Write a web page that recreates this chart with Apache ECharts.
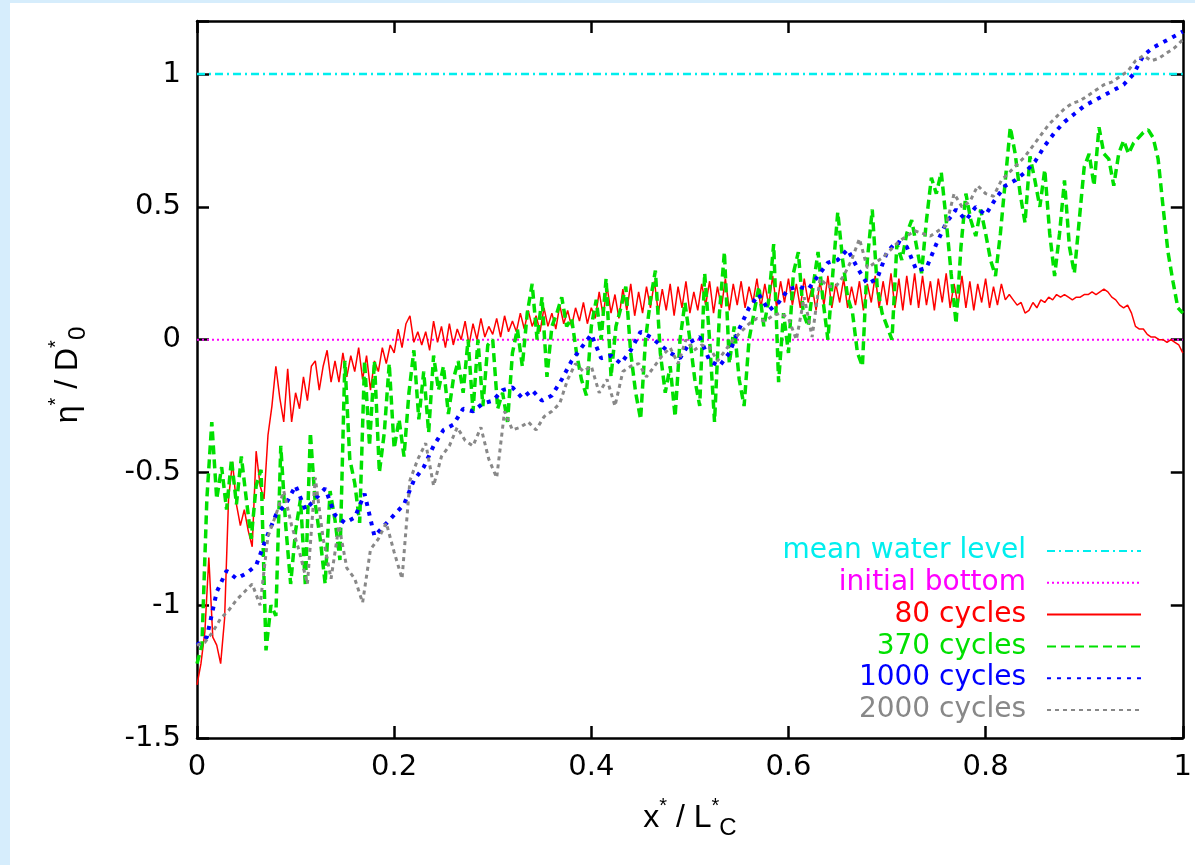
<!DOCTYPE html>
<html><head><meta charset="utf-8">
<script src="https://cdn.jsdelivr.net/npm/echarts@6/dist/echarts.min.js"></script>
<style>
html,body{margin:0;padding:0;background:#d6edfc;width:1195px;height:865px;overflow:hidden;}
#bg{position:absolute;left:10px;top:3px;right:0;bottom:0;background:#fff;}
#c{position:absolute;left:0;top:0;width:1195px;height:865px;}
</style>
</head><body><div id="bg"></div><div id="c"></div>
<script>
const FONT = "'Liberation Sans', Arial, Helvetica, sans-serif";
const LFONT = "'DejaVu Sans', 'Liberation Sans', sans-serif";
const seriesNames = ['mean water level', 'initial bottom', '80 cycles', '370 cycles', '1000 cycles', '2000 cycles'];
const xRange = [0, 1];
const yRange = [-1.5, 1.2];
const meanWaterLevel = 1;
const initialBottom = 0;

// eta*/D0* along x*/Lc*, evenly sampled from x=0 to x=1
const cycles80 = [
 -1.30,-1.22,-1.10,-0.82,-1.12,-1.15,-1.22,-1.05,-0.60,-0.46,
 -0.62,-0.70,-0.64,-0.72,-0.78,-0.42,-0.55,-0.60,-0.36,-0.25,
 -0.10,-0.22,-0.31,-0.11,-0.31,-0.20,-0.26,-0.14,-0.23,-0.10,
 -0.08,-0.19,-0.10,-0.04,-0.16,-0.08,-0.16,-0.05,-0.14,-0.06,
 -0.12,-0.03,-0.15,-0.06,-0.19,-0.08,-0.12,-0.03,-0.09,-0.02,
 -0.05,0.04,-0.03,0.06,0.09,-0.01,0.03,-0.02,0.03,-0.04,0.07,
 -0.01,0.05,-0.03,0.06,-0.02,0.04,0.00,0.07,-0.02,0.06,0.00,0.08,0.01,0.05,0.02,0.08,0.01,0.09,0.03,0.07,
 0.03,0.10,0.04,0.11,0.05,0.09,0.03,0.12,0.05,0.10,0.04,0.13,0.06,0.11,0.05,0.12,0.07,0.14,0.06,0.12,
 0.08,0.18,0.09,0.20,0.10,0.17,0.08,0.19,0.11,0.21,
 0.09,0.18,0.10,0.20,0.12,0.22,0.10,0.19,0.11,0.21,
 0.09,0.20,0.12,0.22,0.10,0.18,0.11,0.21,0.13,0.22,
 0.10,0.20,0.12,0.23,0.11,0.21,0.13,0.22,0.12,0.20,
 0.14,0.23,0.12,0.21,0.13,0.24,0.12,0.22,0.14,0.23,
 0.13,0.21,0.12,0.23,0.14,0.20,0.11,0.22,0.13,0.24,
 0.12,0.21,0.14,0.23,0.12,0.20,0.13,0.22,0.11,0.21,
 0.14,0.24,0.12,0.22,0.13,0.25,0.12,0.23,0.11,0.24,
 0.13,0.25,0.12,0.24,0.13,0.22,0.11,0.23,0.14,0.25,
 0.12,0.21,0.13,0.24,0.12,0.22,0.11,0.21,0.14,0.23,
 0.12,0.20,0.13,0.21,0.15,
 0.17,0.15,0.13,0.14,0.10,0.11,0.14,0.12,0.15,0.14,
 0.16,0.15,0.17,0.16,0.17,0.16,0.15,0.16,0.16,0.17,
 0.17,0.18,0.17,0.18,0.19,0.18,0.16,0.15,0.13,0.12,
 0.13,0.10,0.05,0.04,0.04,0.02,0.01,0.01,0.00,0.00,
 -0.01,0.00,-0.01,-0.02,-0.05
];
const cycles370 = [
 -1.22,-1.15,-0.60,-0.31,-0.60,-0.48,-0.64,-0.45,-0.62,-0.44,
 -0.60,-0.75,-0.55,-0.49,-1.17,-1.00,-1.04,-0.40,-0.70,-0.92,
 -0.72,-0.60,-0.93,-0.35,-0.62,-0.75,-0.92,-0.57,-0.68,-0.83,
 -0.08,-0.45,-0.54,-0.69,-0.08,-0.40,-0.08,-0.50,-0.35,-0.09,
 -0.41,-0.30,-0.44,-0.20,-0.04,-0.30,-0.12,-0.35,-0.06,
 -0.19,-0.10,-0.28,-0.15,-0.08,-0.20,0.00,-0.27,0.00,-0.25,
 -0.02,0.00,-0.26,-0.20,-0.31,-0.05,0.04,-0.10,0.10,0.21,
 0.00,0.16,-0.14,0.05,0.10,0.16,0.05,0.08,
 -0.05,-0.15,-0.21,0.05,0.15,0.00,0.23,-0.14,0.05,0.12,
 0.20,-0.05,-0.20,-0.30,0.00,0.15,0.26,-0.05,-0.20,-0.10,
 -0.29,0.00,0.14,0.00,-0.15,-0.25,0.25,0.00,-0.31,0.10,
 0.33,-0.09,0.05,-0.15,-0.25,0.00,0.10,0.20,0.05,0.15,
 0.36,-0.16,0.10,-0.05,0.25,0.33,0.10,0.05,0.20,0.33,
 0.15,0.00,0.25,0.48,0.30,0.16,0.10,-0.05,-0.10,0.30,
 0.49,0.20,0.10,0.05,0.00,0.36,0.30,0.40,0.45,0.35,
 0.25,0.45,0.61,0.55,0.63,0.45,0.25,0.06,0.35,0.55,
 0.45,0.39,0.49,0.40,0.30,0.24,0.40,0.60,0.80,0.70,
 0.55,0.44,0.69,0.60,0.50,0.64,0.40,0.24,0.40,0.60,
 0.35,0.25,0.45,0.65,0.70,0.58,0.80,0.70,0.68,0.58,
 0.70,0.75,0.70,0.74,0.76,0.78,0.79,0.76,0.68,0.50,
 0.33,0.22,0.12,0.10
];
const cycles1000 = [
 -1.15,-1.12,-0.95,-0.87,-0.90,-0.88,-0.85,-0.75,-0.66,-0.62,
 -0.55,-0.64,-0.60,-0.56,-0.66,-0.69,-0.67,-0.58,-0.74,-0.70,
 -0.66,-0.62,-0.53,-0.48,-0.40,-0.34,-0.32,-0.26,-0.27,-0.24,
 -0.23,-0.19,-0.18,-0.22,-0.19,-0.23,-0.21,-0.15,-0.08,-0.03,
 0.02,-0.07,-0.06,-0.09,-0.04,0.03,0.01,-0.02,-0.05,-0.07,
 -0.01,0.01,-0.08,-0.10,-0.05,0.04,0.12,0.17,0.11,0.14,
 0.19,0.20,0.19,0.24,0.29,0.30,0.34,0.27,0.21,0.23,
 0.33,0.37,0.35,0.26,0.27,0.36,0.44,0.49,0.45,0.50,
 0.47,0.53,0.58,0.60,0.63,0.67,0.73,0.78,0.82,0.85,
 0.88,0.90,0.92,0.94,0.96,1.00,1.07,1.10,1.12,1.14,
 1.16
];
const cycles2000 = [
 -1.15,-1.14,-1.10,-1.05,-1.02,-0.98,-0.95,-0.92,-1.00,-0.74,
 -0.66,-0.57,-0.70,-0.80,-0.92,-0.52,-0.75,-0.90,-0.70,-0.86,
 -0.90,-0.99,-0.79,-0.75,-0.69,-0.80,-0.90,-0.53,-0.45,-0.39,
 -0.55,-0.44,-0.40,-0.33,-0.38,-0.40,-0.33,-0.45,-0.52,-0.27,
 -0.34,-0.33,-0.31,-0.34,-0.29,-0.27,-0.24,-0.15,-0.09,-0.12,
 -0.10,-0.20,-0.15,-0.25,-0.12,-0.10,-0.09,-0.14,-0.10,-0.06,
 -0.03,-0.09,0.00,-0.04,-0.02,-0.03,-0.08,-0.04,0.00,0.03,
 0.06,0.08,0.07,0.09,0.10,0.08,0.00,0.16,0.01,0.23,
 0.20,0.20,0.24,0.30,0.38,0.27,0.29,0.31,0.34,0.37,
 0.39,0.41,0.40,0.39,0.41,0.43,0.55,0.50,0.52,0.58,
 0.55,0.54,0.60,0.63,0.66,0.69,0.73,0.77,0.81,0.84,
 0.87,0.89,0.90,0.92,0.94,0.96,0.97,0.99,1.01,1.05,
 1.07,1.05,1.06,1.08,1.10,1.13
];
const xTickStep = 0.2;
const yTickStep = 0.5;

const colors = {
  mean: '#00eeee', bottom: '#ff00ff', c80: '#ff0000', c370: '#00e000', c1000: '#0000ff', c2000: '#888888'
};

function sampled(vals) {
  const n = vals.length;
  return vals.map((v, i) => [xRange[0] + (xRange[1] - xRange[0]) * i / (n - 1), v]);
}
function level(v) { return [[xRange[0], v], [xRange[1], v]]; }

const chart = echarts.init(document.getElementById('c'), null, {renderer: 'canvas'});

const axisLineStyle = {color: '#000', width: 2.5};
function xAx(pos, showLabel) {
  return {
    type: 'value', position: pos, min: xRange[0], max: xRange[1], interval: xTickStep,
    axisLine: {show: true, onZero: false, lineStyle: axisLineStyle},
    axisTick: {show: true, inside: true, length: 12, lineStyle: axisLineStyle},
    axisLabel: {show: showLabel, fontSize: 29, color: '#000', fontFamily: LFONT, margin: 15,
      formatter: v => String(+v.toFixed(2))},
    splitLine: {show: false}
  };
}
function yAx(pos, showLabel) {
  return {
    type: 'value', position: pos, min: yRange[0], max: yRange[1], interval: yTickStep,
    axisLine: {show: true, onZero: false, lineStyle: axisLineStyle},
    axisTick: {show: true, inside: true, length: 12, lineStyle: axisLineStyle},
    axisLabel: {show: showLabel, fontSize: 29, color: '#000', fontFamily: LFONT, margin: 16,
      formatter: v => (Math.abs(v / yTickStep - Math.round(v / yTickStep)) < 1e-6) ? String(+v.toFixed(2)) : ''},
    splitLine: {show: false}
  };
}

function lineSeries(name, data, color, width, type) {
  return {
    name, type: 'line', data, xAxisIndex: 0, yAxisIndex: 0,
    symbol: 'none', showSymbol: false, smooth: false, animation: false,
    lineStyle: {color, width, type},
    itemStyle: {color}
  };
}

chart.setOption({
  animation: false,
  grid: {left: 197, right: 12, top: 21, bottom: 127, containLabel: false},
  xAxis: [xAx('bottom', true), xAx('top', false)],
  yAxis: [yAx('left', true), yAx('right', false)],
  legend: {
    orient: 'vertical', right: 48, top: 531, align: 'right',
    itemWidth: 94, itemHeight: 14, itemGap: 1.8, selectedMode: false,
    itemStyle: {opacity: 0},
    textStyle: {fontSize: 28, fontFamily: LFONT, lineHeight: 30, padding: [0, 16, 0, 0]},
    data: [
      {name: seriesNames[0], textStyle: {color: colors.mean}},
      {name: seriesNames[1], textStyle: {color: colors.bottom}},
      {name: seriesNames[2], textStyle: {color: colors.c80}},
      {name: seriesNames[3], textStyle: {color: colors.c370}},
      {name: seriesNames[4], textStyle: {color: colors.c1000}},
      {name: seriesNames[5], textStyle: {color: colors.c2000}}
    ]
  },
  graphic: [
    {type: 'text', x: 690, y: 818, z: 100,
      style: {text: '{m|x}{s|*}{m| / L}{s|*}{b|C}', align: 'center', verticalAlign: 'middle',
        rich: {
          m: {fontSize: 32, fontFamily: FONT, fill: '#000', color: '#000', lineHeight: 44},
          s: {fontSize: 20, fontFamily: FONT, fill: '#000', color: '#000', verticalAlign: 'top', lineHeight: 44},
          b: {fontSize: 24, fontFamily: FONT, fill: '#000', color: '#000', verticalAlign: 'bottom', lineHeight: 44}
        }}},
    {type: 'text', x: 68, y: 375, rotation: Math.PI / 2, z: 100,
      style: {text: '{m|η}{s|*}{m| / D}{s|*}{b|0}', align: 'center', verticalAlign: 'middle',
        rich: {
          m: {fontSize: 32, fontFamily: FONT, fill: '#000', color: '#000', lineHeight: 44},
          s: {fontSize: 20, fontFamily: FONT, fill: '#000', color: '#000', verticalAlign: 'top', lineHeight: 44},
          b: {fontSize: 24, fontFamily: FONT, fill: '#000', color: '#000', verticalAlign: 'bottom', lineHeight: 44}
        }}}
  ],
  series: [
    lineSeries(seriesNames[0], level(meanWaterLevel), colors.mean, 2.5, [8, 4, 2, 4]),
    lineSeries(seriesNames[1], level(initialBottom), colors.bottom, 2, [2, 3]),
    lineSeries(seriesNames[2], sampled(cycles80), colors.c80, 1.5, 'solid'),
    lineSeries(seriesNames[3], sampled(cycles370), colors.c370, 3.5, [9, 5]),
    lineSeries(seriesNames[4], sampled(cycles1000), colors.c1000, 4, [4, 6]),
    lineSeries(seriesNames[5], sampled(cycles2000), colors.c2000, 3, [4, 4])
  ]
});
</script>
</body></html>
